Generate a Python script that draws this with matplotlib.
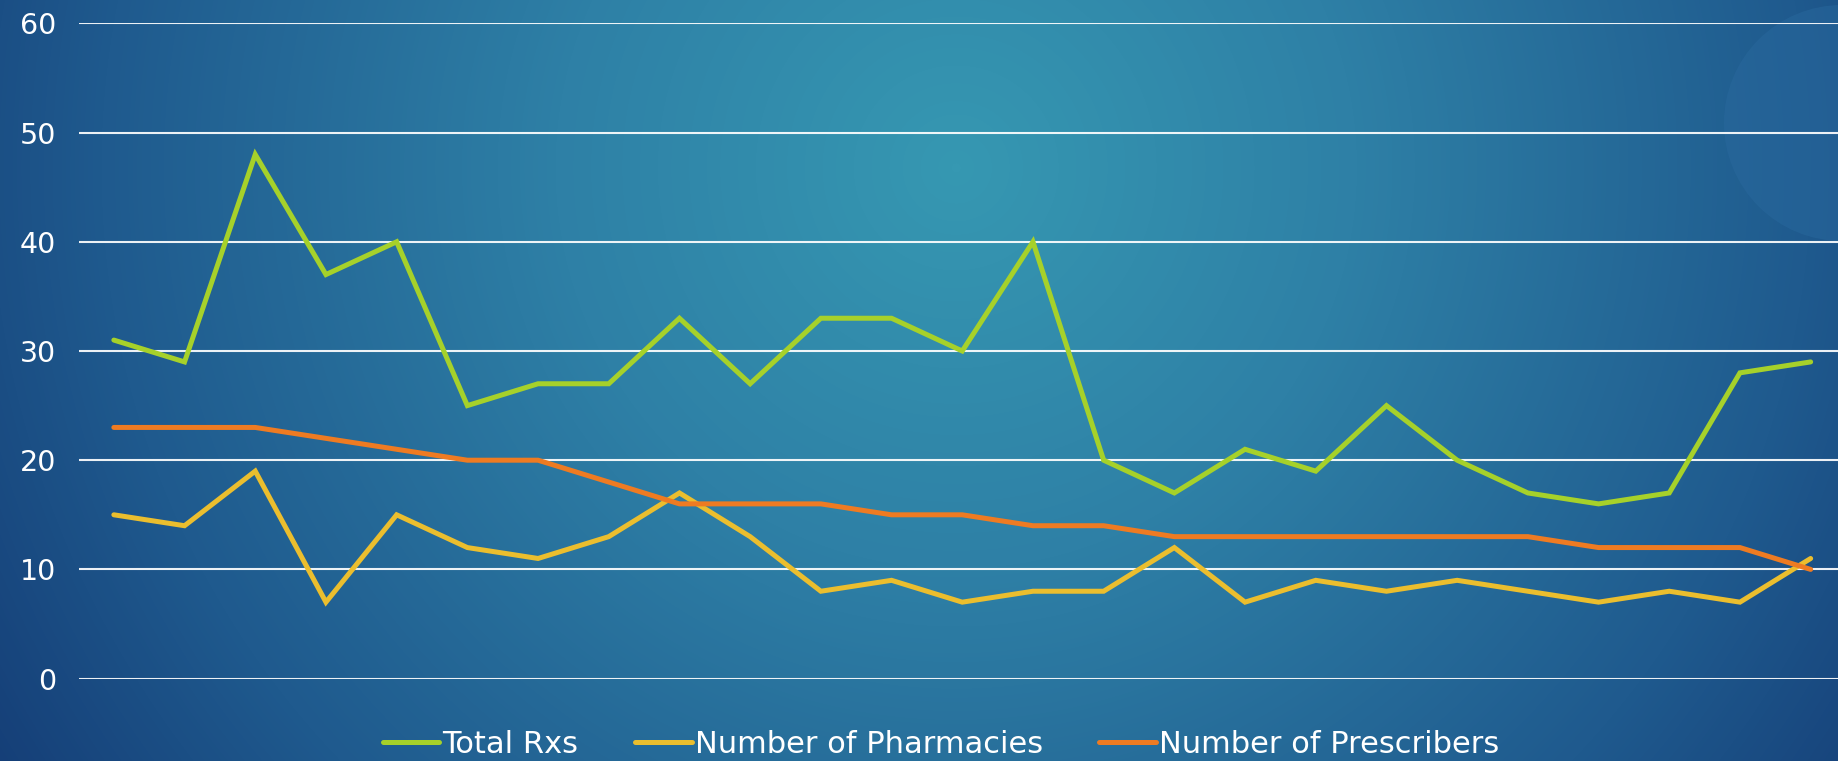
import numpy as np
import matplotlib
matplotlib.use("Agg")
import matplotlib.pyplot as plt
from matplotlib.patches import Circle
from matplotlib.colors import LinearSegmentedColormap

# ---- data ----
periods = list(range(1, 26))
total_rxs = [31, 29, 48, 37, 40, 25, 27, 27, 33, 27, 33, 33, 30, 40, 20, 17, 21, 19, 25, 20, 17, 16, 17, 28, 29]
pharmacies = [15, 14, 19, 7, 15, 12, 11, 13, 17, 13, 8, 9, 7, 8, 8, 12, 7, 9, 8, 9, 8, 7, 8, 7, 11]
prescribers = [23, 23, 23, 22, 21, 20, 20, 18, 16, 16, 16, 15, 15, 14, 14, 13, 13, 13, 13, 13, 13, 12, 12, 12, 10]
series_names = ["Total Rxs", "Number of Pharmacies", "Number of Prescribers"]
y_ticks = [0, 10, 20, 30, 40, 50, 60]

colors = ["#A6D12A", "#EBBE2E", "#EE7B22"]

W, H = 1838, 761
fig = plt.figure(figsize=(W / 100, H / 100), dpi=100)
plt.rcParams['font.family'] = ['DejaVu Sans']

# ---- background gradient ----
bg = fig.add_axes([0, 0, 1, 1], zorder=0)
bg.set_axis_off()
yy, xx = np.mgrid[0:H, 0:W]
cx, cy = 0.52 * W, 0.22 * H
d = np.sqrt(((xx - cx) / W) ** 2 + ((yy - cy) / W) ** 2)
t = np.clip(d / 0.62, 0, 1)
cmap = LinearSegmentedColormap.from_list(
    "bgc", [(0.0, "#3698B2"), (0.35, "#2E80A6"), (0.75, "#1F5A8E"), (1.0, "#153E77")])
bg.imshow(t, cmap=cmap, vmin=0, vmax=1, aspect="auto", extent=[0, W, H, 0], interpolation="bilinear")
bg.add_patch(Circle((1842, 123), 118, facecolor="#2A6A9F", edgecolor="none", alpha=0.45))
bg.set_xlim(0, W)
bg.set_ylim(H, 0)

# ---- main axes ----
left = 78.5 / W
right = 1846 / W
bottom = 1 - 678.6 / H
top = 1 - 23.4 / H
ax = fig.add_axes([left, bottom, right - left, top - bottom], zorder=1)
ax.patch.set_alpha(0)

x = np.arange(len(periods))
for vals, name, c in zip([total_rxs, pharmacies, prescribers], series_names, colors):
    ax.plot(x, vals, color=c, lw=3.6, label=name, solid_capstyle="round", solid_joinstyle="miter", zorder=3)

ax.set_xlim(-0.5, len(periods) - 0.5)
ax.set_ylim(0, 60)
ax.set_yticks(y_ticks)
ax.set_yticklabels([str(v) for v in y_ticks])
ax.set_xticks([])
ax.tick_params(axis="y", length=0, pad=16, labelsize=20.5, labelcolor="white")
for s in ax.spines.values():
    s.set_visible(False)
ax.yaxis.grid(True, color="white", lw=1.5, alpha=0.92)
ax.set_axisbelow(True)

handles, labels = ax.get_legend_handles_labels()
leg = fig.legend(handles, labels, loc="center", bbox_to_anchor=(0.512, 0.022), ncol=3, frameon=False,
                 fontsize=22, handlelength=1.85, handletextpad=0.1, columnspacing=1.85, borderpad=0,
                 labelcolor="white")

fig.savefig("out.png", dpi=100)
